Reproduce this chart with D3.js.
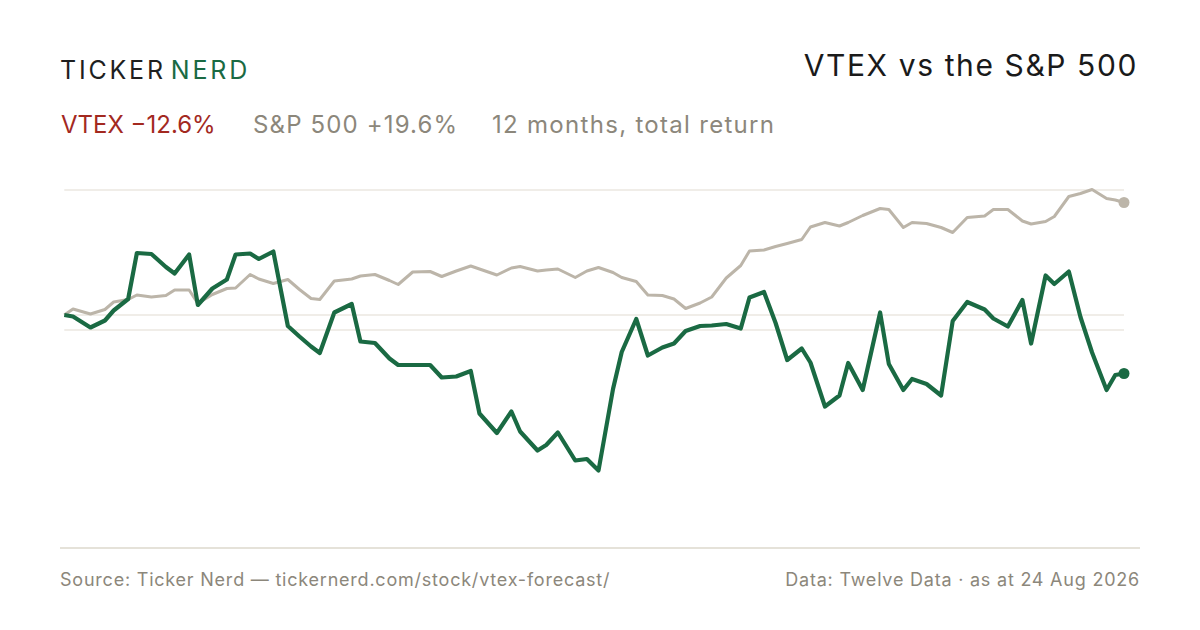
<!DOCTYPE html>
<html>
<head>
<meta charset="utf-8">
<script src="https://cdn.jsdelivr.net/npm/d3@7"></script>
<style>
  html, body { margin: 0; padding: 0; background: #fff; }
  svg { display: block; }
</style>
</head>
<body>
<div id="chart"></div>
<script>
// Day offsets across the 12 months (shared by both series)
const days = [
  0, 3, 9, 14, 17, 22, 25, 30, 35, 38, 43, 46, 51, 56, 59, 64, 67, 72, 77, 81,
  85, 88, 93, 99, 102, 107, 112, 115, 120, 126, 130, 135, 140, 143, 149, 154, 157, 163, 166, 170,
  176, 180, 184, 189, 192, 197, 201, 206, 210, 214, 219, 223, 228, 233, 236, 241, 245, 249, 254, 257,
  262, 267, 270, 275, 281, 284, 289, 292, 297, 302, 306, 311, 317, 320, 325, 330, 333, 338, 341, 346,
  350, 354, 359, 362, 365
]

// Cumulative return, %
const vtex = [
  0, -0.3, -2.5, -1.1, 0.9, 3.2, 12.4, 12.2, 9.6, 8.3, 12.1, 2.0, 5.3, 7.1, 12.1, 12.3, 11.2, 12.7, -2.2, -4.3,
  -6.3, -7.6, 0.5, 2.2, -5.3, -5.6, -8.7, -10.0, -10.0, -10.0, -12.5, -12.3, -11.2, -19.7, -23.6, -19.3, -23.3, -27.1, -26.0, -23.5,
  -29.1, -28.8, -31.1, -14.8, -7.4, -0.8, -8.1, -6.5, -5.7, -3.2, -2.2, -2.1, -1.8, -2.7, 3.5, 4.6, -1.6, -9.0, -6.7, -9.5,
  -18.3, -16.1, -9.6, -15.0, 0.5, -9.8, -15.0, -12.8, -13.8, -16.1, -1.2, 2.6, 1.1, -0.7, -2.3, 3.0, -5.7, 7.9, 6.2, 8.7,
  -0.4, -7.5, -15.0, -12.0, -11.7
]

const spx = [
  0, 1.2, 0.2, 1.1, 2.6, 3.1, 4.0, 3.6, 3.9, 5.0, 5.0, 2.3, 4.1, 5.3, 5.4, 8.1, 7.2, 6.3, 7.1, 5.1,
  3.3, 3.1, 6.8, 7.2, 7.8, 8.1, 6.9, 6.1, 8.6, 8.7, 7.7, 8.8, 9.8, 9.2, 8.0, 9.4, 9.7, 8.8, 9.0, 9.2,
  7.5, 8.8, 9.5, 8.5, 7.5, 6.7, 4.0, 3.9, 3.2, 1.3, 2.4, 3.6, 7.4, 9.9, 12.8, 13.0, 13.7, 14.3, 15.1, 17.6,
  18.5, 17.8, 18.5, 19.9, 21.3, 21.1, 17.5, 18.5, 18.3, 17.5, 16.5, 19.5, 19.8, 21.1, 21.1, 18.8, 18.2, 18.7, 19.7, 23.7,
  24.3, 25.1, 23.3, 23.0, 22.5
]

const gridTicks = [25, 0, -3]

const W = 1200, H = 630
const green = '#1a6a43'
const sand = '#bcb5a9'
const muted = '#8c877b'

const svg = d3.select('#chart').append('svg')
  .attr('width', W)
  .attr('height', H)
  .style('font-family', 'Inter, "Liberation Sans", sans-serif')

svg.append('rect').attr('width', W).attr('height', H).attr('fill', '#fff')

// Header
const brand = svg.append('text')
  .attr('x', 60).attr('y', 79)
  .attr('font-size', 25)
  .attr('letter-spacing', 2.8)
brand.append('tspan').attr('fill', '#1f1f1f').text('TICKER')
brand.append('tspan').attr('fill', green).attr('dx', 5).text('NERD')

svg.append('text')
  .attr('x', 1138).attr('y', 76)
  .attr('text-anchor', 'end')
  .attr('font-size', 30)
  .attr('letter-spacing', 1.6)
  .attr('fill', '#1a1a1a')
  .text('VTEX vs the S&P 500')

// Subtitle
const sub = [
  { x: 61, text: 'VTEX \u221212.6%', color: '#a3291f', ls: 0 },
  { x: 253, text: 'S&P 500 +19.6%', color: muted, ls: 1.15 },
  { x: 492, text: '12 months, total return', color: muted, ls: 1.3 }
]
svg.selectAll('text.sub')
  .data(sub)
  .join('text')
  .attr('class', 'sub')
  .attr('x', d => d.x).attr('y', 133)
  .attr('font-size', 24)
  .attr('letter-spacing', d => d.ls)
  .attr('fill', d => d.color)
  .text(d => d.text)

// Scales
const x = d3.scaleLinear().domain([0, 365]).range([64.3, 1124])
const y = d3.scaleLinear().domain([-40, 25]).range([515, 190])

// Gridlines
svg.append('g')
  .selectAll('line')
  .data(gridTicks)
  .join('line')
  .attr('x1', x(0)).attr('x2', x(365))
  .attr('y1', d => y(d)).attr('y2', d => y(d))
  .attr('stroke', '#ebe7e0')
  .attr('stroke-width', 1.5)

const line = d3.line()
  .x((d, i) => x(days[i]))
  .y(d => y(d))

// S&P 500 (behind)
svg.append('path')
  .datum(spx)
  .attr('d', line)
  .attr('fill', 'none')
  .attr('stroke', sand)
  .attr('stroke-width', 3)
  .attr('stroke-linejoin', 'round')

// VTEX
svg.append('path')
  .datum(vtex)
  .attr('d', line)
  .attr('fill', 'none')
  .attr('stroke', green)
  .attr('stroke-width', 4.2)
  .attr('stroke-linejoin', 'round')

// End dots
const last = days.length - 1
svg.append('circle')
  .attr('cx', x(days[last])).attr('cy', y(spx[last]))
  .attr('r', 5.5).attr('fill', sand)
svg.append('circle')
  .attr('cx', x(days[last])).attr('cy', y(vtex[last]))
  .attr('r', 5.5).attr('fill', green)

// Bottom rule
svg.append('line')
  .attr('x1', 60).attr('x2', 1140)
  .attr('y1', 548).attr('y2', 548)
  .attr('stroke', '#ddd8cc')
  .attr('stroke-width', 1.5)

// Footer
svg.append('text')
  .attr('x', 60).attr('y', 586)
  .attr('font-size', 18)
  .attr('letter-spacing', 0.78)
  .attr('fill', muted)
  .text('Source: Ticker Nerd \u2014 tickernerd.com/stock/vtex-forecast/')

svg.append('text')
  .attr('x', 1140).attr('y', 586)
  .attr('text-anchor', 'end')
  .attr('font-size', 18)
  .attr('letter-spacing', 0.78)
  .attr('fill', muted)
  .text('Data: Twelve Data \u00b7 as at 24 Aug 2026')
</script>
</body>
</html>
